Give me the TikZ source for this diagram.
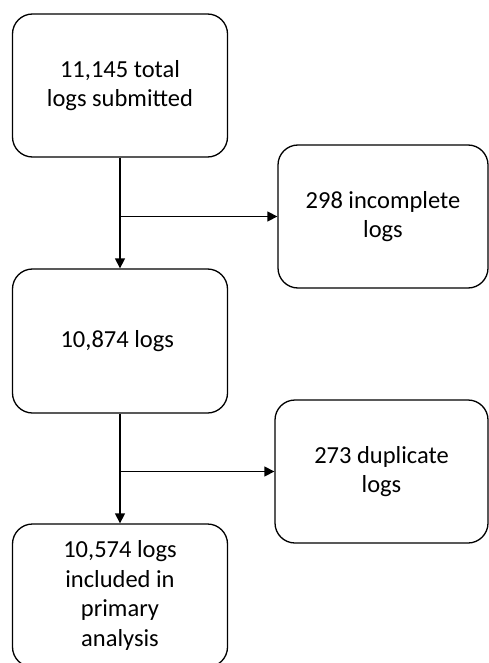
\documentclass[tikz,border=0pt]{standalone}
\usepackage{fontspec}
\setmainfont{Carlito}
\usetikzlibrary{arrows.meta}

\begin{document}
\begin{tikzpicture}[
   x=1pt,
   y=-1pt,
   >={Triangle[length=10pt,width=10pt]},
   line width=1.3pt,
   logbox/.style={
      draw,
      rounded corners=20pt,
      minimum height=143pt,
      align=center,
      font=\fontsize{24.5}{29.5}\selectfont
   }
]

   \useasboundingbox (0,0) rectangle (489,663);

   % Submitted logs
   \node[logbox, minimum width=215pt] (submitted) at (120,85.5)
   {
      11,145 total\\
      logs submitted
   };

   % Incomplete logs
   \node[logbox, minimum width=210pt] (incomplete) at (383,216.5)
   {
      298 incomplete\\
      logs
   };

   % Remaining logs
   \node[logbox, minimum width=215pt, minimum height=144pt] (remaining) at (120,341)
   {
      10,874 logs
   };

   % Duplicate logs
   \node[logbox, minimum width=213pt] (duplicate) at (381.5,471.5)
   {
      273 duplicate\\
      logs
   };

   % Included logs
   \node[logbox, minimum width=215pt] (included) at (120,595.5)
   {
      10,574 logs\\
      included in\\
      primary\\
      analysis
   };

   % First exclusion
   \coordinate (split1) at (submitted.south |- incomplete.west);

   \draw[->] (submitted.south) -- (remaining.north);
   \draw[->] (split1) -- (incomplete.west);

   % Second exclusion
   \coordinate (split2) at (remaining.south |- duplicate.west);

   \draw[->] (remaining.south) -- (included.north);
   \draw[->] (split2) -- (duplicate.west);

\end{tikzpicture}
\end{document}
